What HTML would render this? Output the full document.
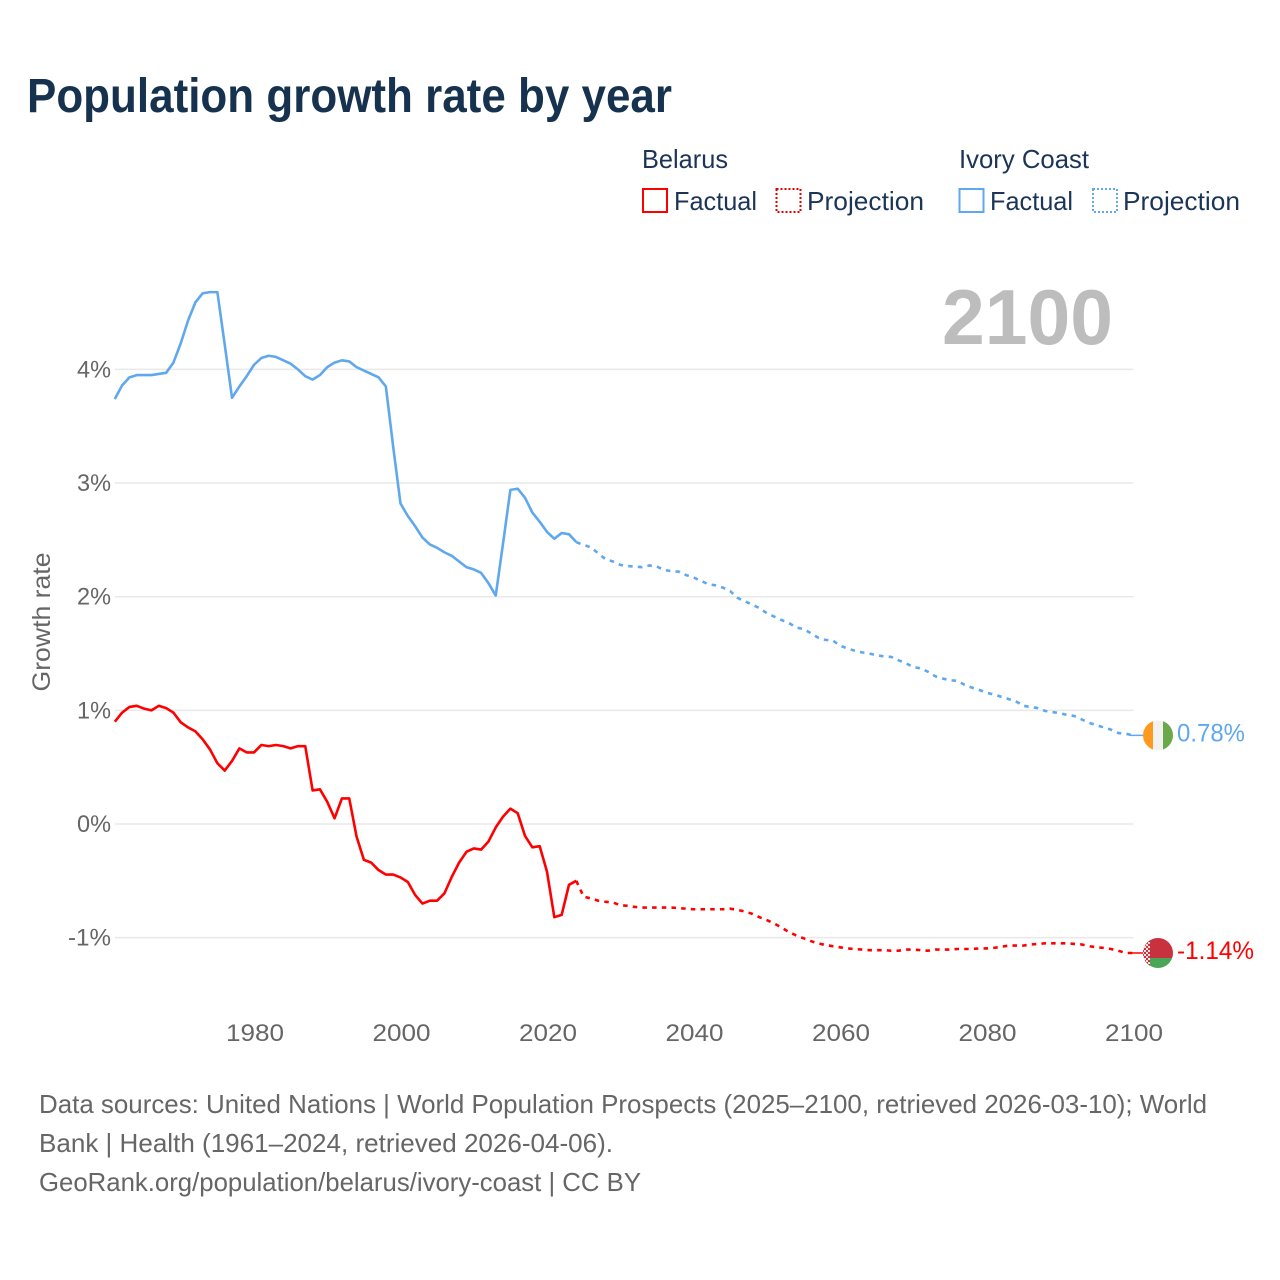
<!DOCTYPE html>
<html lang="en">
<head>
<meta charset="utf-8">
<title>Population growth rate by year</title>
<style>
html,body{margin:0;padding:0;background:#fff;}
svg{display:block;font-family:"Liberation Sans",sans-serif;}
</style>
</head>
<body>
<svg id="chart" xmlns="http://www.w3.org/2000/svg" width="1280" height="1280" viewBox="0 0 1280 1280">
  <defs>
    <clipPath id="clip-flag-ivory"><circle id="clip-ivory-circle" cx="1158" cy="735" r="15"/></clipPath>
    <clipPath id="clip-flag-belarus"><circle id="clip-belarus-circle" cx="1158" cy="953" r="15"/></clipPath>
    <pattern id="ornament" width="4" height="4" patternUnits="userSpaceOnUse">
      <rect width="4" height="4" fill="#f3e3e4"/>
      <rect x="0" y="0" width="2" height="2" fill="#c8313e"/>
      <rect x="2" y="2" width="2" height="2" fill="#c8313e"/>
    </pattern>
  </defs>
  <rect width="1280" height="1280" fill="#fff"/>

  <text x="27" y="112" font-size="48" font-weight="700" fill="#16324f" textLength="645" lengthAdjust="spacingAndGlyphs">Population growth rate by year</text>

  <g font-size="26" fill="#1c3557">
    <text x="642" y="168" textLength="86" lengthAdjust="spacingAndGlyphs">Belarus</text>
    <text x="959" y="168" textLength="130" lengthAdjust="spacingAndGlyphs">Ivory Coast</text>
    <rect x="643" y="189" width="24" height="23" fill="none" stroke="#ff0000" stroke-width="2"/>
    <text x="674" y="210" textLength="83" lengthAdjust="spacingAndGlyphs">Factual</text>
    <rect x="776.5" y="189" width="24" height="23" fill="none" stroke="#e00000" stroke-width="2" stroke-dasharray="2 2"/>
    <text x="807" y="210" textLength="117" lengthAdjust="spacingAndGlyphs">Projection</text>
    <rect x="959.5" y="189" width="24" height="23" fill="none" stroke="#60a8ee" stroke-width="2"/>
    <text x="990" y="210" textLength="83" lengthAdjust="spacingAndGlyphs">Factual</text>
    <rect x="1093" y="189" width="24" height="23" fill="none" stroke="#60a8ee" stroke-width="2" stroke-dasharray="2 2"/>
    <text x="1123" y="210" textLength="117" lengthAdjust="spacingAndGlyphs">Projection</text>
  </g>

  <g id="grid"></g>
  <g id="y-ticks" font-size="24" fill="#666"></g>
  <g id="x-ticks" font-size="24" fill="#666"></g>

  <text transform="translate(50,622) rotate(-90)" text-anchor="middle" font-size="25" fill="#666" textLength="139" lengthAdjust="spacingAndGlyphs">Growth rate</text>

  <text x="942" y="344" font-size="78" font-weight="700" fill="#bdbdbd" textLength="171" lengthAdjust="spacingAndGlyphs">2100</text>

  <g id="series"></g>

  <g id="flag-ivory" clip-path="url(#clip-flag-ivory)">
    <rect id="ivory-o" x="1143" y="720" width="10" height="30" fill="#ff9a1f"/>
    <rect id="ivory-w" x="1153" y="720" width="10" height="30" fill="#f1f1f1"/>
    <rect id="ivory-g" x="1163" y="720" width="10" height="30" fill="#6ba84a"/>
  </g>
  <g id="flag-belarus" clip-path="url(#clip-flag-belarus)">
    <rect id="belarus-r" x="1143" y="938" width="30" height="20" fill="#c8313e"/>
    <rect id="belarus-g" x="1143" y="958" width="30" height="10" fill="#4aa657"/>
    <rect id="belarus-o" x="1143" y="938" width="7" height="30" fill="url(#ornament)"/>
  </g>

  <g id="end-labels" font-size="25"></g>

  <g font-size="26" fill="#666">
    <text x="39" y="1113" textLength="1168" lengthAdjust="spacingAndGlyphs">Data sources: United Nations | World Population Prospects (2025–2100, retrieved 2026-03-10); World</text>
    <text x="39" y="1152" textLength="574" lengthAdjust="spacingAndGlyphs">Bank | Health (1961–2024, retrieved 2026-04-06).</text>
    <text x="39" y="1191" textLength="602" lengthAdjust="spacingAndGlyphs">GeoRank.org/population/belarus/ivory-coast | CC BY</text>
  </g>
</svg>
<script>
const factualStartYear = 1961;
const projectionStartYear = 2024;
const xTickYears = [1980, 2000, 2020, 2040, 2060, 2080, 2100];
const yTickValues = [4, 3, 2, 1, 0, -1];
const yTickLabels = ['4%', '3%', '2%', '1%', '0%', '-1%'];

const ivoryFactual = [
  3.74,3.86,3.93,3.95,3.95,3.95,3.96,3.97,4.06,4.23,
  4.43,4.59,4.67,4.68,4.68,4.22,3.75,3.85,3.94,4.04,
  4.10,4.12,4.11,4.08,4.05,4.00,3.94,3.91,3.95,4.02,
  4.06,4.08,4.07,4.02,3.99,3.96,3.93,3.85,3.32,2.82,
  2.71,2.62,2.52,2.46,2.43,2.39,2.36,2.31,2.26,2.24,
  2.21,2.12,2.01,2.47,2.94,2.95,2.87,2.74,2.66,2.57,
  2.51,2.56,2.55,2.48
];
const ivoryProjection = [
  2.48,2.455,2.435,2.38,2.33,2.31,
  2.28,2.27,2.265,2.26,2.275,2.265,2.235,2.225,2.22,2.19,
  2.17,2.14,2.11,2.10,2.08,2.05,1.99,1.96,1.93,1.90,
  1.855,1.825,1.795,1.77,1.73,1.715,1.68,1.64,1.62,1.615,
  1.57,1.545,1.525,1.51,1.50,1.485,1.475,1.47,1.44,1.415,
  1.38,1.37,1.34,1.30,1.28,1.265,1.26,1.225,1.20,1.18,
  1.155,1.14,1.12,1.10,1.08,1.04,1.03,1.02,0.995,0.985,
  0.975,0.96,0.95,0.92,0.89,0.87,0.85,0.83,0.80,0.795,
  0.78
];
const belarusFactual = [
  0.90,0.98,1.03,1.04,1.015,1.00,1.04,1.02,0.98,0.895,
  0.85,0.815,0.745,0.655,0.535,0.47,0.555,0.665,0.63,0.63,
  0.695,0.685,0.695,0.685,0.665,0.685,0.685,0.295,0.305,0.195,
  0.05,0.225,0.225,-0.11,-0.315,-0.34,-0.405,-0.445,-0.445,-0.47,
  -0.51,-0.625,-0.70,-0.675,-0.675,-0.61,-0.465,-0.34,-0.245,-0.215,
  -0.225,-0.155,-0.03,0.065,0.135,0.095,-0.105,-0.205,-0.195,-0.42,
  -0.82,-0.80,-0.535,-0.50
];
const belarusProjection = [
  -0.50,-0.64,-0.655,-0.675,-0.685,-0.69,
  -0.715,-0.72,-0.73,-0.735,-0.735,-0.735,-0.735,-0.735,-0.74,-0.745,
  -0.75,-0.75,-0.75,-0.75,-0.75,-0.745,-0.755,-0.77,-0.79,-0.82,
  -0.845,-0.875,-0.91,-0.95,-0.98,-1.005,-1.03,-1.05,-1.065,-1.075,
  -1.085,-1.095,-1.10,-1.105,-1.11,-1.11,-1.11,-1.115,-1.115,-1.105,
  -1.105,-1.11,-1.115,-1.105,-1.105,-1.105,-1.10,-1.10,-1.10,-1.095,
  -1.095,-1.09,-1.08,-1.07,-1.07,-1.07,-1.06,-1.055,-1.05,-1.05,
  -1.05,-1.05,-1.055,-1.06,-1.075,-1.085,-1.09,-1.10,-1.115,-1.135,
  -1.135
];
const ivoryEndLabel = '0.78%';
const belarusEndLabel = '-1.14%';

const NS = 'http://www.w3.org/2000/svg';
const BLUE = '#60a8ee';
const RED = '#ff0000';
function xScale(year) { return 255 + (year - 1980) * 7.325; }
function yScale(value) { return 824 - value * 113.65; }
function make(tag, parent, attrs) {
  const el = document.createElementNS(NS, tag);
  for (const k in attrs) el.setAttribute(k, attrs[k]);
  parent.appendChild(el);
  return el;
}
function pathFor(values, startYear) {
  return values.map((v, i) => (i ? 'L' : 'M') + (xScale(startYear + i) - 1).toFixed(2) + ' ' + yScale(v).toFixed(2)).join(' ');
}

const grid = document.getElementById('grid');
const yTicks = document.getElementById('y-ticks');
yTickValues.forEach((v, i) => {
  const line = make('line', grid, { x1: 115, x2: 1133.5, y1: yScale(v), y2: yScale(v), stroke: '#e9e9e9', 'stroke-width': 1.5 });
  
  
  const label = yTickLabels[i];
  const t = make('text', yTicks, { x: 111, y: yScale(v) + 8, 'text-anchor': 'end', textLength: label.length > 2 ? 43 : 34, lengthAdjust: 'spacingAndGlyphs' });
  t.textContent = label;
  
  
});

const xTicks = document.getElementById('x-ticks');
xTickYears.forEach((year) => {
  const t = make('text', xTicks, { x: xScale(year), y: 1041, 'text-anchor': 'middle', textLength: 58, lengthAdjust: 'spacingAndGlyphs' });
  t.textContent = String(year);
  
  
});

const series = document.getElementById('series');
function drawSeries(values, startYear, color, dashed, name) {
  const attrs = { d: pathFor(values, startYear), fill: 'none', stroke: color, 'stroke-width': 2.6, 'stroke-linejoin': 'round' };
  if (dashed) attrs['stroke-dasharray'] = '4.5 5.2';
  const p = make('path', series, attrs);
  
  
}
drawSeries(ivoryFactual, factualStartYear, BLUE, false, 'line-ivory-coast-factual');
drawSeries(ivoryProjection, projectionStartYear, BLUE, true, 'line-ivory-coast-projection');
drawSeries(belarusFactual, factualStartYear, RED, false, 'line-belarus-factual');
drawSeries(belarusProjection, projectionStartYear, RED, true, 'line-belarus-projection');

const ivoryEndY = yScale(ivoryProjection[ivoryProjection.length - 1]);
const belarusEndY = yScale(belarusProjection[belarusProjection.length - 1]);
const leaderA = make('line', series, { x1: 1130, x2: 1144, y1: ivoryEndY, y2: ivoryEndY, stroke: BLUE, 'stroke-width': 1.5 });


const leaderB = make('line', series, { x1: 1130, x2: 1144, y1: belarusEndY, y2: belarusEndY, stroke: RED, 'stroke-width': 1.5 });



function placeFlag(circleId, rectIds, cy) {
  document.getElementById(circleId).setAttribute('cy', cy);
  rectIds.forEach((r) => {
    const el = document.getElementById(r[0]);
    el.setAttribute('y', cy + r[1]);
  });
}
placeFlag('clip-ivory-circle', [['ivory-o', -15], ['ivory-w', -15], ['ivory-g', -15]], ivoryEndY);
placeFlag('clip-belarus-circle', [['belarus-r', -15], ['belarus-g', 5], ['belarus-o', -15]], belarusEndY);

const endLabels = document.getElementById('end-labels');
const endA = make('text', endLabels, { x: 1177, y: ivoryEndY + 6, fill: BLUE, textLength: 68, lengthAdjust: 'spacingAndGlyphs' });
endA.textContent = ivoryEndLabel;


const endB = make('text', endLabels, { x: 1177, y: belarusEndY + 6, fill: RED, textLength: 77, lengthAdjust: 'spacingAndGlyphs' });
endB.textContent = belarusEndLabel;


</script>
</body>
</html>
